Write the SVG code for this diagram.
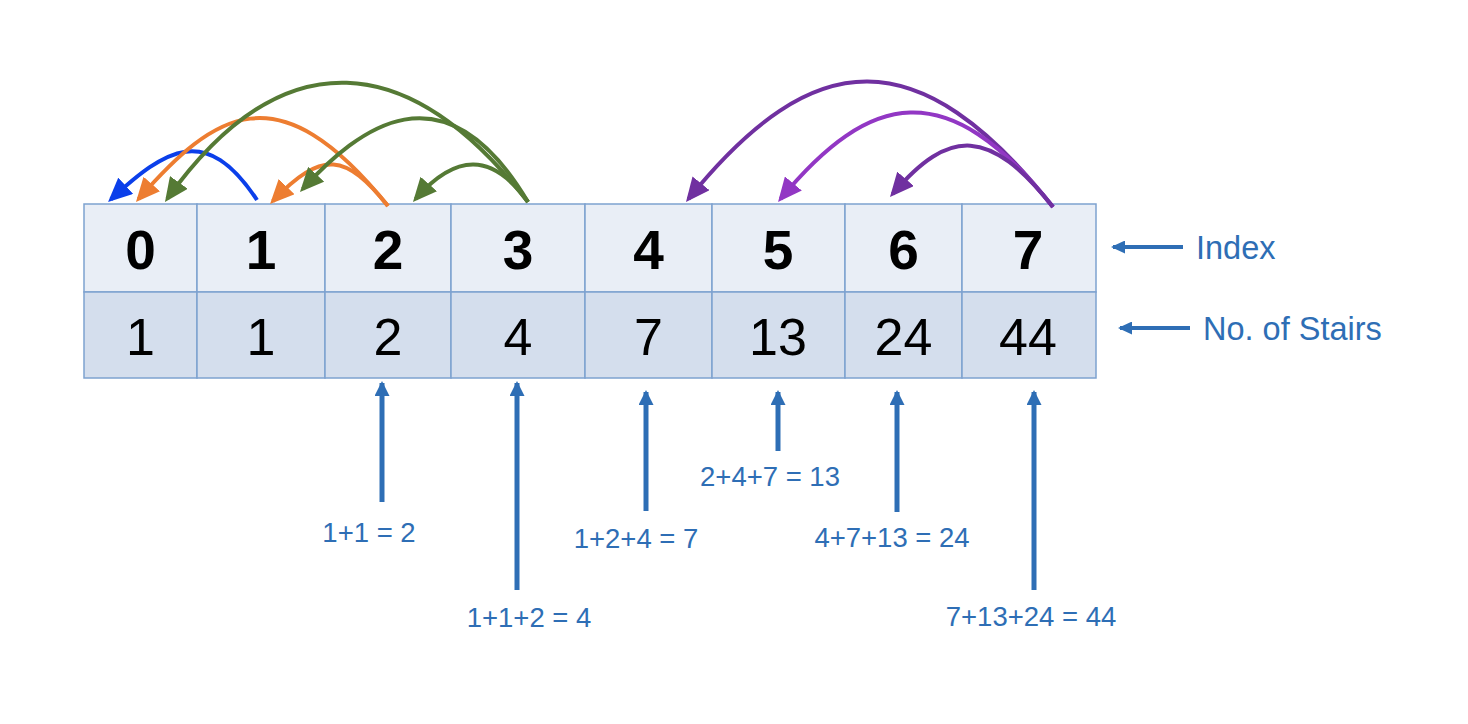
<svg xmlns="http://www.w3.org/2000/svg" width="1468" height="724" viewBox="0 0 1468 724">
<style>
.idx{fill:#E9EEF6;stroke:#7EA2CF;stroke-width:1.5}
.val{fill:#D4DEED;stroke:#7EA2CF;stroke-width:1.5}
.hd{font-family:"Liberation Sans",Arial,sans-serif;font-weight:bold;font-size:55px;fill:#000;text-anchor:middle}
.nm{font-family:"Liberation Sans",Arial,sans-serif;font-size:52px;fill:#000;text-anchor:middle}
.lbl{font-family:"Liberation Sans",Arial,sans-serif;font-size:27.5px;fill:#2E6EB5;text-anchor:middle}
.side{font-family:"Liberation Sans",Arial,sans-serif;font-size:32.5px;fill:#2E6EB5}
.arc{fill:none;stroke-width:4}
.up{stroke:#2E6EB5;stroke-width:5;fill:none}
.side-arrow{stroke:#2E6EB5;stroke-width:4;fill:none}
</style>
<defs>
<marker id="mBlue" markerUnits="userSpaceOnUse" viewBox="0 0 24 22" refX="20" refY="11" markerWidth="24" markerHeight="22" orient="auto"><path d="M0,0 L24,11 L0,22 z" fill="#0B3FEA"/></marker>
<marker id="mOrange" markerUnits="userSpaceOnUse" viewBox="0 0 24 22" refX="20" refY="11" markerWidth="24" markerHeight="22" orient="auto"><path d="M0,0 L24,11 L0,22 z" fill="#ED7D31"/></marker>
<marker id="mGreen" markerUnits="userSpaceOnUse" viewBox="0 0 24 22" refX="20" refY="11" markerWidth="24" markerHeight="22" orient="auto"><path d="M0,0 L24,11 L0,22 z" fill="#557A35"/></marker>
<marker id="mPurple" markerUnits="userSpaceOnUse" viewBox="0 0 24 22" refX="20" refY="11" markerWidth="24" markerHeight="22" orient="auto"><path d="M0,0 L24,11 L0,22 z" fill="#7030A0"/></marker>
<marker id="mPurple2" markerUnits="userSpaceOnUse" viewBox="0 0 24 22" refX="20" refY="11" markerWidth="24" markerHeight="22" orient="auto"><path d="M0,0 L24,11 L0,22 z" fill="#9237C4"/></marker>
<marker id="mUp" markerUnits="userSpaceOnUse" viewBox="0 0 15 15" refX="13" refY="7.5" markerWidth="15" markerHeight="15" orient="auto"><path d="M0,0 L15,7.5 L0,15 z" fill="#2E6EB5"/></marker>
<marker id="mSide" markerUnits="userSpaceOnUse" viewBox="0 0 14 13" refX="12" refY="6.5" markerWidth="14" markerHeight="13" orient="auto"><path d="M0,0 L14,6.5 L0,13 z" fill="#2E6EB5"/></marker>
</defs>
<rect width="1468" height="724" fill="#FFFFFF"/>

<g id="col-0"><rect class="idx" x="84" y="204" width="113" height="88"/><rect class="val" x="84" y="292" width="113" height="86"/><text class="hd" x="140.5" y="269">0</text><text class="nm" x="140.5" y="355">1</text></g>
<g id="col-1"><rect class="idx" x="197" y="204" width="128" height="88"/><rect class="val" x="197" y="292" width="128" height="86"/><text class="hd" x="261" y="269">1</text><text class="nm" x="261" y="355">1</text></g>
<g id="col-2"><rect class="idx" x="325" y="204" width="126" height="88"/><rect class="val" x="325" y="292" width="126" height="86"/><text class="hd" x="388" y="269">2</text><text class="nm" x="388" y="355">2</text></g>
<g id="col-3"><rect class="idx" x="451" y="204" width="134" height="88"/><rect class="val" x="451" y="292" width="134" height="86"/><text class="hd" x="518" y="269">3</text><text class="nm" x="518" y="355">4</text></g>
<g id="col-4"><rect class="idx" x="585" y="204" width="127" height="88"/><rect class="val" x="585" y="292" width="127" height="86"/><text class="hd" x="648.5" y="269">4</text><text class="nm" x="648.5" y="355">7</text></g>
<g id="col-5"><rect class="idx" x="712" y="204" width="133" height="88"/><rect class="val" x="712" y="292" width="133" height="86"/><text class="hd" x="778" y="269">5</text><text class="nm" x="778" y="355">13</text></g>
<g id="col-6"><rect class="idx" x="845" y="204" width="117" height="88"/><rect class="val" x="845" y="292" width="117" height="86"/><text class="hd" x="903.5" y="269">6</text><text class="nm" x="903.5" y="355">24</text></g>
<g id="col-7"><rect class="idx" x="962" y="204" width="134" height="88"/><rect class="val" x="962" y="292" width="134" height="86"/><text class="hd" x="1028" y="269">7</text><text class="nm" x="1028" y="355">44</text></g>

<g id="label-index"><text class="side" x="1196" y="259">Index</text></g>
<g id="label-stairs"><text class="side" x="1203" y="340">No. of Stairs</text></g>

<g id="sum-2"><text class="lbl" x="369" y="542">1+1 = 2</text></g>
<g id="sum-4"><text class="lbl" x="529" y="627">1+1+2 = 4</text></g>
<g id="sum-7"><text class="lbl" x="636" y="548">1+2+4 = 7</text></g>
<g id="sum-13"><text class="lbl" x="770" y="486">2+4+7 = 13</text></g>
<g id="sum-24"><text class="lbl" x="892" y="547">4+7+13 = 24</text></g>
<g id="sum-44"><text class="lbl" x="1031" y="626">7+13+24 = 44</text></g>

<g id="connectors">
<path class="arc" stroke="#0B3FEA" marker-end="url(#mBlue)" d="M257,200 C205.7,122.6 165.9,148.8 111,199.3"/>
<path class="arc" stroke="#ED7D31" marker-end="url(#mOrange)" d="M388,206 C277.2,68.9 214.8,112.4 138.6,199"/>
<path class="arc" stroke="#ED7D31" marker-end="url(#mOrange)" d="M388,206 C346.1,154.1 322.6,149.1 272.8,201.1"/>
<path class="arc" stroke="#557A35" marker-end="url(#mGreen)" d="M528,202 C410,50 283,37 167.3,198.7"/>
<path class="arc" stroke="#557A35" marker-end="url(#mGreen)" d="M528,202 C443.5,59.6 357.8,129 302.7,189"/>
<path class="arc" stroke="#557A35" marker-end="url(#mGreen)" d="M528,202 C492,151.8 455.6,153.5 415.6,199"/>
<path class="arc" stroke="#7030A0" marker-end="url(#mPurple)" d="M1053,207 C918.8,38.2 813.5,44.1 688.5,198.9"/>
<path class="arc" stroke="#9237C4" marker-end="url(#mPurple2)" d="M1053,207 C946.7,73.3 869.6,91.7 780.6,198.9"/>
<path class="arc" stroke="#7030A0" marker-end="url(#mPurple)" d="M1053,207 C989.6,127.2 949.5,127.5 892.6,194"/>

<path class="side-arrow" marker-end="url(#mSide)" d="M1183,247 L1113,247"/>
<path class="side-arrow" marker-end="url(#mSide)" d="M1190,328 L1120,328"/>

<path class="up" marker-end="url(#mUp)" d="M382,502 L382,383"/>
<path class="up" marker-end="url(#mUp)" d="M517,590 L517,383"/>
<path class="up" marker-end="url(#mUp)" d="M646,511 L646,392"/>
<path class="up" marker-end="url(#mUp)" d="M778,451 L778,392"/>
<path class="up" marker-end="url(#mUp)" d="M897,512 L897,392"/>
<path class="up" marker-end="url(#mUp)" d="M1034,590 L1034,392"/>
</g>
</svg>
